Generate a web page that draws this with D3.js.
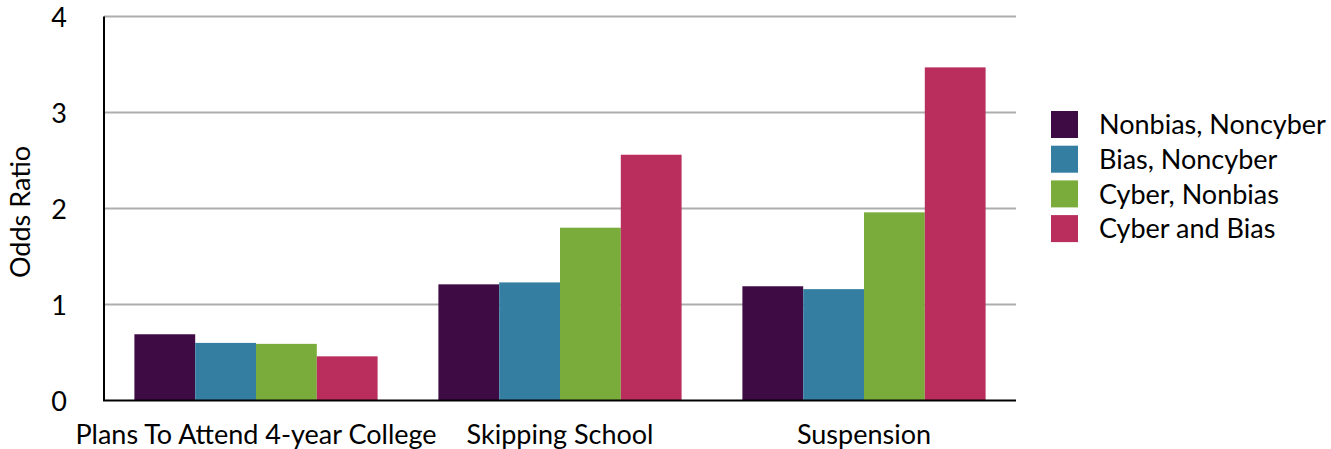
<!DOCTYPE html>
<html>
<head>
<meta charset="utf-8">
<script src="https://cdn.jsdelivr.net/npm/d3@7"></script>
<style>
  body { margin: 0; background: #fff; }
  svg text { font-family: Lato, "Open Sans", sans-serif; fill: #000; }
</style>
</head>
<body>
<svg id="chart"></svg>
<script>
// data
var categories = ["Plans To Attend 4-year College", "Skipping School", "Suspension"];
var seriesNames = ["Nonbias, Noncyber", "Bias, Noncyber", "Cyber, Nonbias", "Cyber and Bias"];
var nonbiasNoncyber = [0.69, 1.21, 1.19];
var biasNoncyber = [0.60, 1.23, 1.16];
var cyberNonbias = [0.59, 1.80, 1.96];
var cyberAndBias = [0.46, 2.56, 3.47];
var yTicks = [0, 1, 2, 3, 4];
var colors = ["#3e0b45", "#347ea1", "#7aac3b", "#b92e5d"];

var seriesValues = [nonbiasNoncyber, biasNoncyber, cyberNonbias, cyberAndBias];

var width = 1331, height = 449;
var plot = { left: 104, right: 1016, top: 16.5, bottom: 400.5 };

var svg = d3.select("#chart")
    .attr("width", width)
    .attr("height", height)
    .attr("viewBox", "0 0 " + width + " " + height);

var x0 = d3.scaleBand()
    .domain(categories)
    .range([plot.left, plot.right])
    .paddingInner(0.2)
    .paddingOuter(0.1);

var x1 = d3.scaleBand()
    .domain(seriesNames)
    .range([0, x0.bandwidth()]);

var y = d3.scaleLinear()
    .domain([0, 4])
    .range([plot.bottom, plot.top]);

// gridlines
svg.append("g")
    .selectAll("line")
    .data(yTicks.filter(function(d) { return d > 0; }))
    .enter()
    .append("line")
    .attr("x1", plot.left)
    .attr("x2", plot.right)
    .attr("y1", function(d) { return y(d); })
    .attr("y2", function(d) { return y(d); })
    .style("stroke", "#adadad")
    .style("stroke-width", 2);

// bars
var groups = svg.append("g")
    .selectAll("g")
    .data(categories)
    .enter()
    .append("g")
    .attr("transform", function(d) { return "translate(" + x0(d) + ",0)"; });

groups.selectAll("rect")
    .data(function(d, i) {
        return seriesNames.map(function(s, j) {
            return { series: s, value: seriesValues[j][i], color: colors[j] };
        });
    })
    .enter()
    .append("rect")
    .attr("x", function(d) { return x1(d.series); })
    .attr("width", x1.bandwidth())
    .attr("y", function(d) { return y(d.value); })
    .attr("height", function(d) { return y(0) - y(d.value); })
    .style("fill", function(d) { return d.color; });

// axis lines
svg.append("line")
    .attr("x1", plot.left).attr("x2", plot.left)
    .attr("y1", plot.top).attr("y2", plot.bottom)
    .style("stroke", "#000").style("stroke-width", 2);
svg.append("line")
    .attr("x1", plot.left - 1).attr("x2", plot.right)
    .attr("y1", plot.bottom).attr("y2", plot.bottom)
    .style("stroke", "#000").style("stroke-width", 2);

// y tick labels
var yAxis = d3.axisLeft(y).tickValues(yTicks).tickSize(0).tickPadding(37).tickFormat(d3.format("d"));
var yg = svg.append("g")
    .attr("transform", "translate(" + plot.left + ",0)")
    .call(yAxis);
yg.select(".domain").remove();
yg.selectAll("text")
    .style("font-size", "27px")
    .style("font-family", "Lato, 'Open Sans', sans-serif")
    .attr("dy", "0.36em");

// x category labels
var xAxis = d3.axisBottom(x0).tickSize(0).tickPadding(0);
var xg = svg.append("g")
    .attr("transform", "translate(0," + plot.bottom + ")")
    .call(xAxis);
xg.select(".domain").remove();
xg.selectAll("text")
    .attr("dy", null)
    .attr("y", 43)
    .style("font-size", "27px")
    .style("font-family", "Lato, 'Open Sans', sans-serif");

// y axis title
svg.append("text")
    .attr("transform", "translate(30,212) rotate(-90)")
    .attr("text-anchor", "middle")
    .style("font-size", "27px")
    .text("Odds Ratio");

// legend
var legend = svg.append("g")
    .attr("transform", "translate(1051,111)")
    .selectAll("g")
    .data(seriesNames)
    .enter()
    .append("g")
    .attr("transform", function(d, i) { return "translate(0," + (i * 34.7) + ")"; });

legend.append("rect")
    .attr("width", 27)
    .attr("height", 27)
    .style("fill", function(d, i) { return colors[i]; });

legend.append("text")
    .attr("x", 48)
    .attr("y", 13.5)
    .attr("dy", "0.36em")
    .style("font-size", "27px")
    .text(function(d) { return d; });
</script>
</body>
</html>
